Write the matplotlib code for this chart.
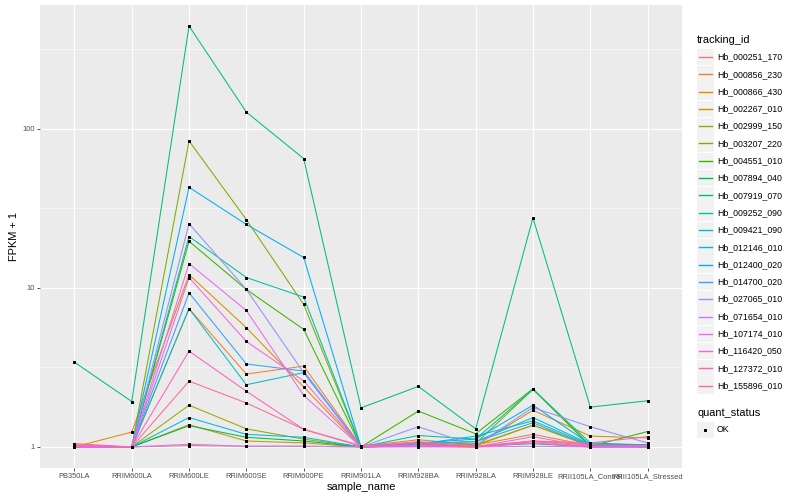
import numpy as np
import matplotlib
matplotlib.use("Agg")
import matplotlib.pyplot as plt
from matplotlib.lines import Line2D
from matplotlib.patches import Rectangle

plt.rcParams['font.family'] = ['Liberation Sans', 'DejaVu Sans']

samples = ["PB350LA", "RRIM600LA", "RRIM600LE", "RRIM600SE", "RRIM600PE",
           "RRIM901LA", "RRIM928BA", "RRIM928LA", "RRIM928LE",
           "RRII105LA_Control", "RRII105LA_Stressed"]

tracking_ids = ["Hb_000251_170", "Hb_000856_230", "Hb_000866_430", "Hb_002267_010",
                "Hb_002999_150", "Hb_003207_220", "Hb_004551_010", "Hb_007894_040",
                "Hb_007919_070", "Hb_009252_090", "Hb_009421_090", "Hb_012146_010",
                "Hb_012400_020", "Hb_014700_020", "Hb_027065_010", "Hb_071654_010",
                "Hb_107174_010", "Hb_116420_050", "Hb_127372_010", "Hb_155896_010"]

colors = ["#F8766D", "#EA8331", "#D89000", "#C09B00", "#A3A500", "#7CAE00",
          "#39B600", "#00BB4E", "#00BF7D", "#00C1A3", "#00BFC4", "#00BAE0",
          "#00B0F6", "#35A2FF", "#9590FF", "#C77CFF", "#E76BF3", "#FA62DB",
          "#FF62BC", "#FF6C91"]

Hb_000251_170 = [1.02, 1.00, 1.02, 1.01, 1.01, 1.00, 1.01, 1.00, 1.08, 1.01, 1.02]
Hb_000856_230 = [1.03, 1.00, 7.40, 2.87, 3.22, 1.01, 1.11, 1.03, 1.20, 1.02, 1.02]
Hb_000866_430 = [1.00, 1.24, 12.1, 5.61, 2.38, 1.00, 1.07, 1.02, 1.70, 1.17, 1.14]
Hb_002267_010 = [1.01, 1.00, 1.38, 1.09, 1.06, 1.00, 1.03, 1.02, 1.37, 1.03, 1.01]
Hb_002999_150 = [1.00, 1.00, 1.83, 1.30, 1.12, 1.00, 1.02, 1.03, 1.37, 1.01, 1.01]
Hb_003207_220 = [1.00, 1.00, 83.7, 26.8, 7.86, 1.00, 1.03, 1.05, 2.30, 1.02, 1.00]
Hb_004551_010 = [1.00, 1.00, 19.6, 9.76, 5.48, 1.00, 1.68, 1.21, 2.32, 1.01, 1.25]
Hb_007894_040 = [1.00, 1.00, 1.36, 1.15, 1.09, 1.00, 1.02, 1.01, 1.05, 1.00, 1.00]
Hb_007919_070 = [3.41, 1.93, 441.0, 127.0, 64.8, 1.76, 2.40, 1.30, 27.5, 1.78, 1.95]
Hb_009252_090 = [1.00, 1.00, 21.0, 11.6, 8.74, 1.00, 1.18, 1.12, 2.30, 1.06, 1.03]
Hb_009421_090 = [1.00, 1.00, 7.40, 2.46, 2.93, 1.00, 1.05, 1.08, 1.53, 1.04, 1.03]
Hb_012146_010 = [1.00, 1.00, 1.53, 1.20, 1.15, 1.00, 1.04, 1.17, 1.46, 1.03, 1.02]
Hb_012400_020 = [1.00, 1.00, 42.8, 25.0, 15.5, 1.00, 1.06, 1.12, 1.83, 1.04, 1.03]
Hb_014700_020 = [1.00, 1.00, 9.30, 3.32, 3.00, 1.00, 1.05, 1.08, 1.42, 1.01, 1.01]
Hb_027065_010 = [1.00, 1.00, 25.3, 9.76, 2.93, 1.00, 1.34, 1.02, 1.77, 1.34, 1.06]
Hb_071654_010 = [1.00, 1.00, 1.04, 1.01, 1.01, 1.00, 1.00, 1.00, 1.01, 1.00, 1.00]
Hb_107174_010 = [1.00, 1.00, 14.2, 7.20, 2.11, 1.00, 1.02, 1.00, 1.16, 1.00, 1.00]
Hb_116420_050 = [1.00, 1.00, 11.6, 4.60, 2.60, 1.00, 1.02, 1.00, 1.06, 1.00, 1.00]
Hb_127372_010 = [1.05, 1.00, 4.00, 2.24, 1.29, 1.02, 1.05, 1.00, 1.09, 1.06, 1.16]
Hb_155896_010 = [1.03, 1.00, 2.59, 1.89, 1.29, 1.01, 1.08, 1.01, 1.09, 1.03, 1.02]

series = [Hb_000251_170, Hb_000856_230, Hb_000866_430, Hb_002267_010, Hb_002999_150,
          Hb_003207_220, Hb_004551_010, Hb_007894_040, Hb_007919_070, Hb_009252_090,
          Hb_009421_090, Hb_012146_010, Hb_012400_020, Hb_014700_020, Hb_027065_010,
          Hb_071654_010, Hb_107174_010, Hb_116420_050, Hb_127372_010, Hb_155896_010]

W, H = 800, 500
fig = plt.figure(figsize=(W / 72, H / 72), dpi=72)
fig.patch.set_facecolor("white")

pl, pr, pt, pb = 40, 682, 5, 468
ax = fig.add_axes([pl / W, (H - pb) / H, (pr - pl) / W, (pb - pt) / H])
ax.set_facecolor("#EBEBEB")
for s in ax.spines.values():
    s.set_visible(False)

x = np.arange(len(samples))
ax.set_yscale("log")
allv = np.array(series)
lo, hi = np.log10(allv.min()), np.log10(allv.max())
ex = 0.05 * (hi - lo)
ax.set_ylim(10 ** (lo - ex), 10 ** (hi + ex))
ax.set_xlim(-0.6, len(samples) - 0.4)

# grid
for v in [10 ** 0.5, 10 ** 1.5, 10 ** 2.5]:
    ax.axhline(v, color="white", lw=0.55, zorder=0.5)
for v in [1, 10, 100]:
    ax.axhline(v, color="white", lw=1.1, zorder=0.6)
for xi in x:
    ax.axvline(xi, color="white", lw=1.1, zorder=0.6)

for vals, c in zip(series, colors):
    ax.plot(x, vals, color=c, lw=1.05, zorder=2, solid_capstyle="butt")
for vals in series:
    ax.plot(x, vals, ls="none", marker="s", ms=2.9, color="black", zorder=3)

ax.set_yticks([1, 10, 100])
ax.set_yticklabels(["1", "10", "100"])
ax.yaxis.set_minor_locator(matplotlib.ticker.NullLocator())
ax.set_xticks(x)
ax.set_xticklabels(samples)
ax.tick_params(axis="both", which="major", length=2.75, width=0.8, color="#333333",
               labelsize=7.5, labelcolor="#4D4D4D", pad=2.2)
ax.set_xlabel("sample_name", fontsize=11, color="black", labelpad=2)
ax.set_ylabel("FPKM + 1", fontsize=11, color="black", labelpad=4)

# legends (manual, figure pixel coordinates)
def fx(px):
    return px / W

def fy(py):
    return 1 - py / H

fig.text(fx(697), fy(40), "tracking_id", fontsize=11, ha="left", va="center")
step = 17.3
for i, (tid, c) in enumerate(zip(tracking_ids, colors)):
    cy = 57 + i * step
    fig.add_artist(Rectangle((fx(697), fy(cy + 8.3)), 16.6 / W, 16.6 / H,
                             transform=fig.transFigure, facecolor="#F2F2F2",
                             edgecolor="none", zorder=1))
    fig.add_artist(Line2D([fx(698.5), fx(711.5)], [fy(cy), fy(cy)],
                          transform=fig.transFigure, color=c, lw=1.4, zorder=3))
    fig.text(fx(717), fy(cy), tid, fontsize=8.8, ha="left", va="center")

fig.text(fx(697), fy(412.5), "quant_status", fontsize=11, ha="left", va="center")
fig.add_artist(Rectangle((fx(697), fy(430 + 8.3)), 16.6 / W, 16.6 / H,
                         transform=fig.transFigure, facecolor="#F2F2F2",
                         edgecolor="none", zorder=1))
fig.add_artist(Line2D([fx(705.3)], [fy(430)], transform=fig.transFigure,
                      marker="s", ms=2.9, color="black", ls="none", zorder=3))
fig.text(fx(717), fy(430), "OK", fontsize=8.8, ha="left", va="center")

fig.savefig("out.png", dpi=72)
